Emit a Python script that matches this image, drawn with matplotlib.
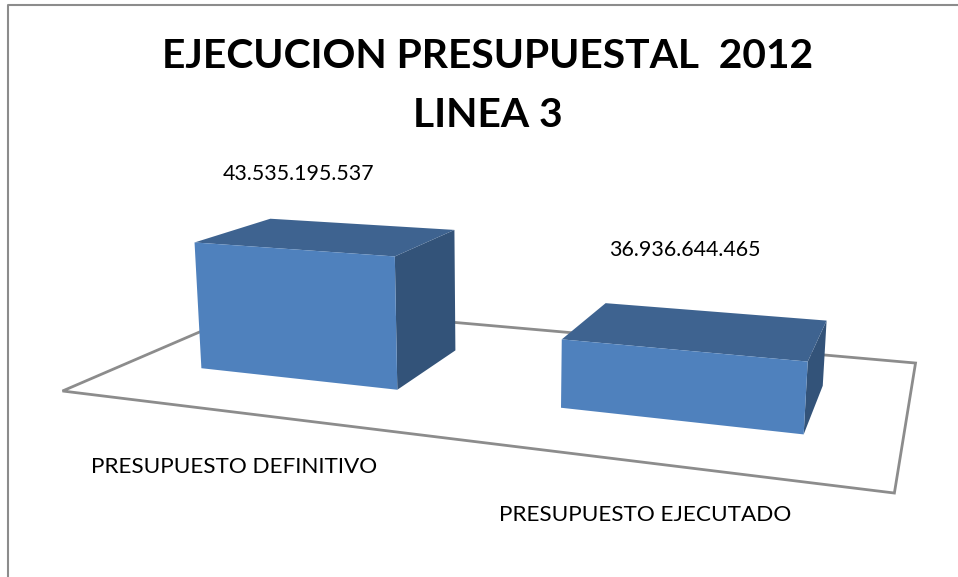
import numpy as np
import matplotlib
matplotlib.use('Agg')
import matplotlib.pyplot as plt
from matplotlib.patches import Polygon

# Dados do grafico
categorias = ['PRESUPUESTO DEFINITIVO', 'PRESUPUESTO EJECUTADO']
valores = [43535195537, 36936644465]
rotulos = ['43.535.195.537', '36.936.644.465']
titulo = 'EJECUCION PRESUPUESTAL  2012\nLINEA 3'

# Escala do eixo de valores (invisivel no original)
base_valor = 30.44e9
px_por_valor = 135 / (43535195537 - 30.44e9)

plt.rcParams['font.family'] = ['Lato', 'DejaVu Sans']


def projeta(u, v, z):
    # camera em perspectiva: u = categoria, v = profundidade, z = altura
    w = -0.2179 * u + 0.2787 * v + 1 - 0.000176 * z
    x = 637 * u + 271.7 * v + 62.5 - 0.088 * z
    y = -5.4 * u - 0.5 * v + 391 - 1.03 * z
    return x / w, y / w


fig = plt.figure(figsize=(9.58, 5.77), dpi=100)
ax = fig.add_axes([0, 0, 1, 1])
ax.set_xlim(0, 958)
ax.set_ylim(577, 0)
ax.axis('off')

# moldura do grafico
ax.plot([8.5, 8.5, 958], [577, 4.5, 4.5], color='#8c8c8c', lw=1.5)

# chao
chao = [projeta(*c, 0) for c in [(0, 0), (1, 0), (1, 1), (0, 1)]]
ax.add_patch(Polygon(chao, closed=True, fc='white', ec='#8c8c8c', lw=2, zorder=1))

larguras = [0.287, 0.284]
v0, v1 = 0.30, 0.70
centros = [0.2525, 0.7530]
for centro, largura, valor in zip(centros, larguras, valores):
    u0, u1 = centro - largura / 2, centro + largura / 2
    z = (valor - base_valor) * px_por_valor
    frente = [projeta(u0, v0, 0), projeta(u1, v0, 0), projeta(u1, v0, z), projeta(u0, v0, z)]
    lado = [projeta(u1, v0, 0), projeta(u1, v1, 0), projeta(u1, v1, z), projeta(u1, v0, z)]
    topo = [projeta(u0, v0, z), projeta(u1, v0, z), projeta(u1, v1, z), projeta(u0, v1, z)]
    ax.add_patch(Polygon(lado, closed=True, fc='#335379', ec='none', zorder=2))
    ax.add_patch(Polygon(topo, closed=True, fc='#3E6390', ec='none', zorder=2))
    ax.add_patch(Polygon(frente, closed=True, fc='#4F81BD', ec='none', zorder=3))

ax.text(488, 86, titulo, ha='center', va='center', fontsize=29.3, fontweight='bold',
        color='black', linespacing=1.72)

# rotulos de valor e de categoria
ax.text(299, 174, rotulos[0], ha='center', va='center', fontsize=15.4, color='black')
ax.text(685, 250, rotulos[1], ha='center', va='center', fontsize=15.4, color='black')
ax.text(234.5, 467, categorias[0], ha='center', va='center', fontsize=16.2, color='black')
ax.text(645.5, 515, categorias[1], ha='center', va='center', fontsize=16.2, color='black')

fig.savefig('out.png', dpi=100)
